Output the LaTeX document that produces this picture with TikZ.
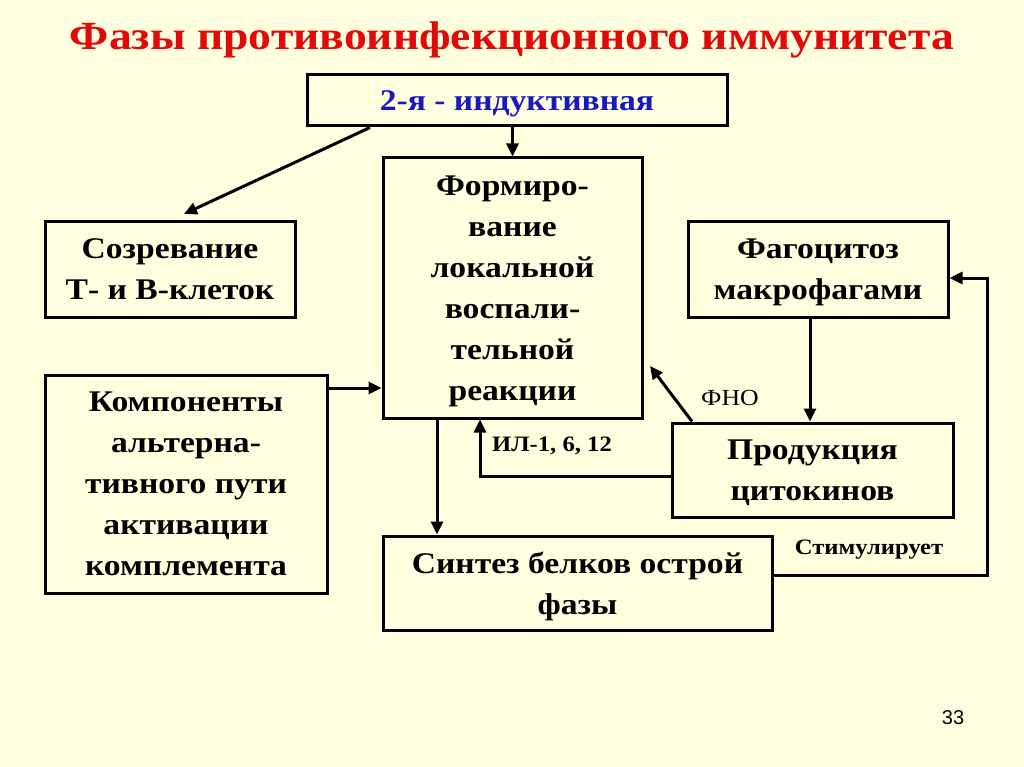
\documentclass[tikz,border=0pt]{standalone}
\usepackage{fontspec}
\setmainfont{Liberation Serif}[FakeStretch=1.12]
\newfontfamily\titlefont{Liberation Serif}[FakeStretch=1.14]
\setsansfont{Liberation Sans}
\usetikzlibrary{arrows.meta}
\definecolor{bg}{RGB}{255,255,224}
\definecolor{ttl}{RGB}{225,10,10}
\definecolor{blu}{RGB}{25,25,190}
\begin{document}
\begin{tikzpicture}[x=1pt,y=-1pt,
 box/.style={draw=black, line width=3pt, fill=bg, inner sep=0pt, align=center, text depth=0pt, font=\bfseries\fontsize{30}{41}\selectfont},
 arr/.style={line width=3pt, -{Triangle[length=13pt,width=12pt]}},
 lbl/.style={font=\fontsize{23}{27}\selectfont, inner sep=0pt}]
\fill[bg] (0,0) rectangle (1024,767);
\useasboundingbox (0,0) rectangle (1024,767);
\node[inner sep=0pt, text=ttl, font=\titlefont\bfseries\fontsize{40}{48}\selectfont] (title) at (512,40) {Фазы противоинфекционного иммунитета};
\node[box, minimum width=420pt, minimum height=51pt, text=blu] (top) at (517,100.5) {2-я - индуктивная};
\node[box, minimum width=259pt, minimum height=260pt] (form) at (512.5,288) {Формиро-\\вание\\локальной\\воспали-\\тельной\\реакции};
\node[box, minimum width=250pt, minimum height=95pt] (soz) at (170,269.5) {Созревание\\Т- и В-клеток};
\node[box, minimum width=260pt, minimum height=95pt] (fag) at (818,269.5) {Фагоцитоз\\макрофагами};
\node[box, minimum width=282pt, minimum height=218pt] (komp) at (186,484) {Компоненты\\альтерна-\\тивного пути\\активации\\комплемента};
\node[box, minimum width=281pt, minimum height=94pt] (prod) at (812.5,470) {Продукция\\цитокинов};
\node[box, minimum width=389pt, minimum height=94pt] (sint) at (577.5,583) {Синтез белков острой\\фазы};
\node[lbl] (fnol) at (730,398) {ФНО};
\node[lbl, font=\bfseries\fontsize{22}{26}\selectfont] (ill) at (552,446) {ИЛ-1, 6, 12};
\node[lbl, font=\bfseries\fontsize{22}{26}\selectfont] (stl) at (869,550) {Стимулирует};
\node[inner sep=0pt, font=\sffamily\fontsize{20}{24}\selectfont] (num) at (953,718) {33};
\coordinate (d1) at (184,214);
\coordinate (fno) at (650,366);
\coordinate (c) at (987,278);
\draw[arr] (370,0 |- top.south) -- (d1);
\draw[arr] (top.south -| form.north) -- (form.north);
\draw[arr] (komp.east |- 0,388) -- (form.west |- 0,388);
\draw[arr] (437,0 |- form.south) -- (437,0 |- sint.north);
\draw[arr] (810,0 |- fag.south) -- (810,0 |- prod.north);
\draw[arr] (692,0 |- prod.north) -- (fno);
\draw[arr] (prod.west |- 0,476) -| (480,0 |- form.south);
\draw[arr] (sint.east |- 0,575) -| (c) -- (fag.east |- c);
\end{tikzpicture}
\end{document}
